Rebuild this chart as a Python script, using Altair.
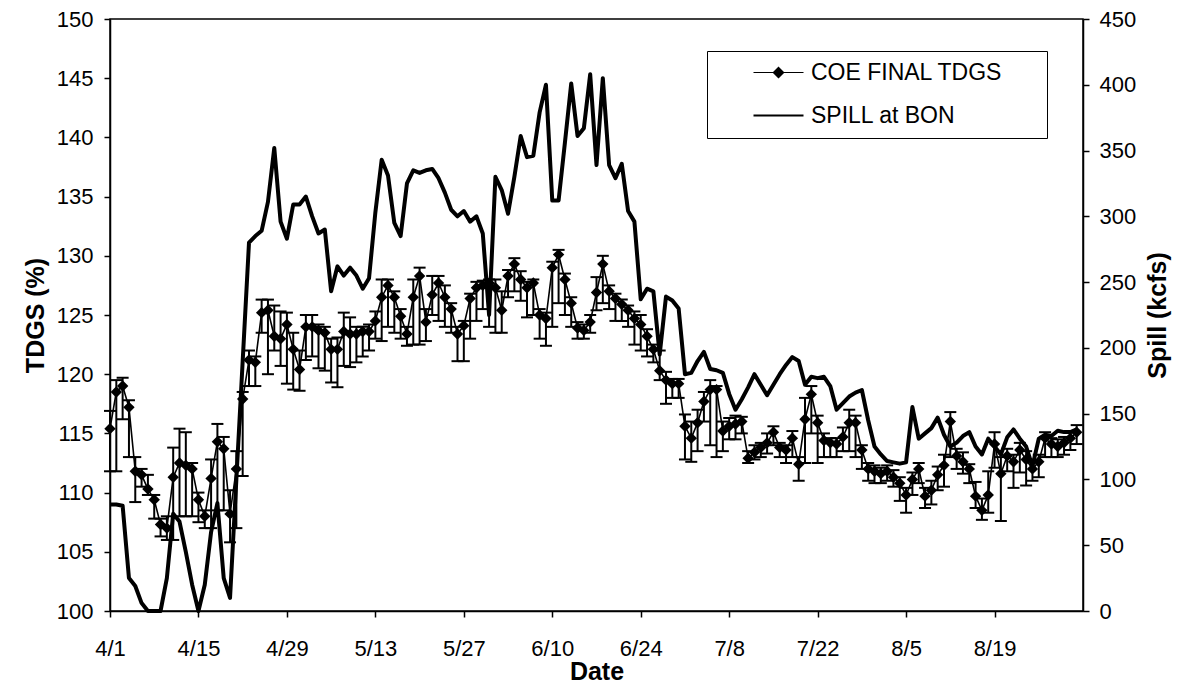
import altair as alt
import pandas as pd

# ---------------- data ----------------
START = "2000-04-01"

spill = [81, 81, 80, 25, 19, 6, 0, 0, 0, 25,
         74, 68, 45, 20, 0, 20, 60, 82, 25, 10,
         100, 190, 280, 285, 289, 311, 352, 296, 283, 309,
         309, 315, 300, 287, 290, 243, 262, 255, 261, 255,
         245, 253, 303, 343, 331, 295, 285, 325, 335, 333,
         335, 336, 329, 318, 305, 300, 304, 296, 300, 287,
         225, 330, 320, 302, 330, 361, 345, 346, 379, 400,
         312, 312, 356, 401, 361, 367, 408, 339, 405, 339,
         329, 340, 304, 296, 237, 245, 243, 195, 239, 236,
         230, 180, 181, 190, 197, 184, 183, 181, 165, 153,
         161, 170, 180, 172, 164, 172, 180, 187, 193, 190,
         172, 178, 177, 178, 171, 153, 158, 163, 166, 168,
         145, 125, 119, 114, 113, 112, 113, 155, 131, 135,
         139, 147, 134, 125, 128, 133, 136, 125, 119, 131,
         125, 119, 132, 138, 131, 125, 110, 131, 134, 133,
         137, 136, 136, 138]

tdgs = [115.4, 118.5, 119.0, 117.2, 111.8, 111.5, 110.3, 109.4, 107.3, 107.0,
        111.3, 112.5, 112.3, 112.0, 109.4, 108.0, 111.2, 114.3, 113.7, 108.2,
        112.0, 117.9, 121.2, 121.0, 125.2, 125.4, 123.2, 123.0, 124.2, 122.1,
        120.4, 124.0, 124.0, 123.7, 123.5, 122.1, 122.1, 123.6, 123.4, 123.4,
        123.6, 123.6, 124.5, 126.5, 127.5, 126.5, 124.9, 123.4, 126.5, 128.3,
        124.4, 126.7, 127.7, 126.5, 125.5, 123.4, 124.1, 126.4, 127.3, 127.5,
        127.7, 127.3, 125.4, 128.3, 129.3, 128.0, 127.3, 127.7, 125.0, 124.7,
        129.0, 130.1, 128.0, 126.0, 123.9, 123.7, 124.4, 126.9, 129.3, 127.0,
        126.4, 125.9, 125.4, 124.7, 124.2, 123.2, 122.1, 120.3, 119.5, 119.2,
        119.2, 115.6, 114.6, 115.9, 117.7, 118.7, 118.7, 115.2, 115.6, 115.8,
        116.0, 112.9, 113.4, 113.8, 114.2, 115.1, 113.8, 113.6, 114.6, 112.4,
        116.2, 118.3, 115.9, 114.4, 114.2, 114.1, 114.7, 115.9, 115.9, 113.6,
        112.0, 111.8, 111.6, 111.8, 111.3, 110.8, 109.8, 111.1, 112.0, 109.7,
        110.2, 111.5, 112.3, 116.0, 113.1, 112.6, 112.0, 109.7, 108.5, 109.8,
        114.1, 111.6, 113.1, 112.6, 113.6, 112.8, 112.0, 112.6, 114.6, 114.1,
        113.9, 114.2, 114.6, 115.1]

# error bar extents below / above each daily value
err_below = [3.6, 6.7, 2.8, 4.2, 2.6, 1.0, 0.5, 1.6, 1.0, 1.0,
             5.3, 4.5, 4.3, 4.0, 1.9, 1.0, 4.2, 5.8, 5.2, 2.4,
             5.0, 6.5, 2.2, 2.0, 1.7, 5.4, 1.2, 2.3, 5.0, 3.4,
             1.8, 2.8, 2.5, 3.2, 3.2, 2.8, 3.2, 2.9, 2.8, 2.4,
             2.1, 1.6, 1.5, 3.7, 3.5, 3.0, 1.9, 1.0, 4.0, 5.8,
             1.6, 1.7, 3.2, 2.5, 2.0, 2.3, 3.0, 3.4, 2.8, 2.0,
             3.7, 3.8, 1.9, 1.8, 2.3, 1.8, 2.5, 2.7, 2.0, 2.3,
             5.0, 4.1, 3.0, 2.0, 0.9, 0.7, 0.9, 1.5, 3.3, 1.5,
             1.9, 1.4, 1.4, 2.2, 2.2, 1.7, 1.1, 0.8, 2.0, 1.2,
             1.2, 2.8, 2.0, 2.4, 1.7, 4.7, 5.7, 1.7, 1.1, 1.3,
             1.0, 0.4, 0.6, 0.8, 0.9, 1.1, 0.8, 1.1, 1.6, 1.4,
             3.7, 3.3, 3.4, 1.4, 1.2, 1.1, 1.2, 2.4, 2.9, 1.6,
             1.0, 1.0, 0.8, 0.8, 0.8, 1.5, 1.5, 1.3, 1.2, 1.0,
             1.2, 1.3, 1.8, 3.0, 1.1, 1.0, 1.2, 1.0, 0.8, 1.5,
             2.0, 4.0, 1.3, 2.2, 1.9, 2.2, 1.0, 1.3, 1.6, 1.1,
             0.9, 1.0, 1.0, 1.0]

err_above = [1.5, 1.0, 0.7, 0.6, 1.2, 0.5, 1.2, 0.4, 0.5, 1.0,
             2.5, 2.9, 2.8, 0.5, 0.6, 0.5, 1.6, 1.5, 1.0, 2.0,
             1.5, 0.6, 0.8, 0.5, 1.1, 0.9, 2.6, 2.3, 1.0, 1.4,
             1.6, 1.0, 1.0, 0.5, 0.5, 0.9, 1.0, 1.6, 1.4, 0.6,
             0.4, 0.6, 0.8, 1.5, 0.5, 0.5, 0.6, 0.6, 1.5, 0.7,
             1.1, 1.6, 0.6, 1.0, 0.5, 0.6, 0.4, 0.4, 0.5, 0.4,
             0.3, 0.7, 1.6, 0.5, 0.5, 0.7, 0.5, 0.3, 0.5, 0.5,
             0.5, 0.4, 0.5, 0.5, 0.5, 0.5, 0.6, 1.3, 0.7, 0.5,
             0.4, 0.4, 0.4, 0.6, 0.8, 0.6, 0.4, 1.7, 0.7, 0.4,
             0.4, 1.0, 1.4, 1.1, 0.8, 0.8, 0.3, 0.8, 0.7, 0.7,
             0.4, 0.6, 0.6, 0.4, 0.8, 0.5, 0.4, 0.4, 0.6, 0.6,
             1.8, 0.7, 0.6, 0.6, 0.4, 0.5, 0.8, 1.1, 0.6, 0.4,
             0.5, 0.5, 0.5, 0.5, 0.6, 0.5, 0.6, 0.6, 0.5, 0.7,
             0.8, 0.7, 0.9, 0.8, 0.6, 0.8, 0.4, 1.2, 1.0, 2.0,
             1.0, 1.4, 0.6, 0.6, 0.6, 0.7, 0.6, 0.6, 0.5, 0.5,
             0.6, 0.5, 0.5, 0.6]

series_names = ["COE FINAL TDGS", "SPILL at BON"]
tick_dates = [(4, 1), (4, 15), (4, 29), (5, 13), (5, 27), (6, 10),
              (6, 24), (7, 8), (7, 22), (8, 5), (8, 19)]
tdgs_ticks = [100, 105, 110, 115, 120, 125, 130, 135, 140, 145, 150]
spill_ticks = [0, 50, 100, 150, 200, 250, 300, 350, 400, 450]

# ---------------- table ----------------
dates = pd.date_range(START, periods=len(tdgs), freq="D")
df = pd.DataFrame({
    "date": dates,
    "tdgs": tdgs,
    "spill": spill,
    "lo": [v - b for v, b in zip(tdgs, err_below)],
    "hi": [v + a for v, a in zip(tdgs, err_above)],
})
legend_df = pd.DataFrame({"series": series_names})

FONT = "Liberation Sans"

x_enc = alt.X(
    "date:T",
    scale=alt.Scale(domain=[alt.DateTime(year=2000, month=4, date=1),
                            alt.DateTime(year=2000, month=9, date=2)]),
    axis=alt.Axis(
        values=[alt.DateTime(year=2000, month=m, date=d) for m, d in tick_dates],
        format="%-m/%-d", title="Date", grid=False,
        labelFontSize=22, titleFontSize=25, titleFontWeight="bold",
        tickSize=6, labelPadding=21, titlePadding=0, labelFlush=False,
    ),
)

yL = alt.Scale(domain=[100, 150], nice=False, zero=False)
left_axis = alt.Axis(
    values=tdgs_ticks, title="TDGS (%)", grid=False,
    labelFontSize=22, titleFontSize=25, titleFontWeight="bold",
    tickSize=6, labelPadding=11, titlePadding=8)

base = alt.Chart(df).encode(x=x_enc)

err = base.mark_rule(color="black", strokeWidth=2).encode(
    y=alt.Y("lo:Q", scale=yL, axis=left_axis, title="TDGS (%)"),
    y2="hi:Q",
)
cap_lo = base.mark_tick(orient="horizontal", size=12, thickness=2, color="black", opacity=1).encode(
    y=alt.Y("lo:Q", scale=yL, axis=left_axis, title="TDGS (%)"))
cap_hi = base.mark_tick(orient="horizontal", size=12, thickness=2, color="black", opacity=1).encode(
    y=alt.Y("hi:Q", scale=yL, axis=left_axis, title="TDGS (%)"))
tline = base.mark_line(color="black", strokeWidth=1.6).encode(
    y=alt.Y("tdgs:Q", scale=yL, axis=left_axis, title="TDGS (%)"))
tpts = base.mark_point(shape="diamond", filled=True, size=130, color="black", opacity=1).encode(
    y=alt.Y("tdgs:Q", scale=yL, axis=left_axis, title="TDGS (%)"))

left = alt.layer(err, cap_lo, cap_hi, tline, tpts)

spill_line = base.mark_line(color="black", strokeWidth=4, strokeJoin="round").encode(
    y=alt.Y("spill:Q", scale=alt.Scale(domain=[0, 450], nice=False),
            axis=alt.Axis(values=spill_ticks, orient="right", title="Spill (kcfs)",
                          grid=False, labelFontSize=22, titleFontSize=25,
                          titleFontWeight="bold", titleAngle=270, titleBaseline="top",
                          tickSize=6, labelPadding=10, titlePadding=10)),
)

# legend symbols: thin line + diamond for TDGS, thick line for spill (all filled shapes)
sym_tdgs = ("M-2.5,-0.045L2.5,-0.045L2.5,0.045L-2.5,0.045Z"
            "M0,-0.6L0.6,0L0,0.6L-0.6,0Z")
sym_spill = "M-2.5,-0.1L2.5,-0.1L2.5,0.1L-2.5,0.1Z"

# blank, non-whitespace filler so the legend frame keeps its right margin
FILL = "\u2800\u2800"

legend_layer = alt.Chart(legend_df).mark_point(
    filled=True, fill="black", stroke="black", strokeWidth=0, opacity=0
).encode(
    shape=alt.Shape("series:N", scale=alt.Scale(domain=series_names,
                                                range=[sym_tdgs, sym_spill]),
        legend=alt.Legend(
            orient="none", legendX=597, legendY=32, title=None,
            symbolSize=400, symbolOpacity=1, symbolFillColor="black",
            symbolStrokeColor="black", symbolStrokeWidth=0,
            symbolOffset=50, labelOffset=21, labelLimit=600,
            labelFontSize=23, labelFont=FONT, labelColor="black",
            strokeColor="black", fillColor="white", padding=10, rowPadding=19,
            labelExpr="datum.label + '" + FILL + "'",
        )),
)

chart = alt.layer(left, spill_line, legend_layer).resolve_scale(
    y="independent"
).properties(
    width=973, height=592,
    autosize=alt.AutoSizeParams(type="none"),
    padding={"left": 102, "top": 11, "right": 95, "bottom": 73},
).configure(
    font=FONT,
).configure_view(
    stroke="black", strokeWidth=1.5,
).configure_axis(
    domainColor="black", tickColor="black", labelColor="black", titleColor="black",
    labelFont=FONT, titleFont=FONT, domainWidth=1.5, tickWidth=1.5,
)

chart.save("out.html", embed_options={"renderer": "svg", "actions": False})
